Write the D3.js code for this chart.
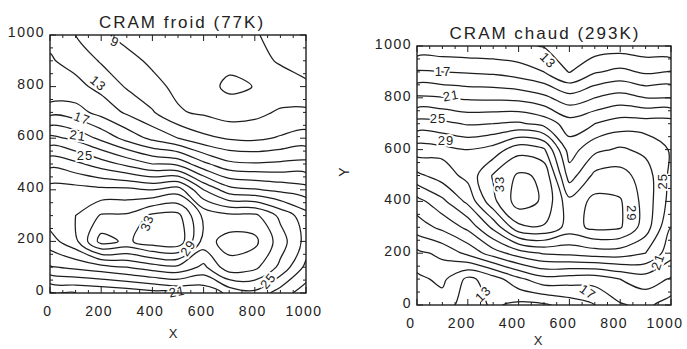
<!DOCTYPE html>
<html>
<head>
<meta charset="utf-8">
<script src="https://cdn.jsdelivr.net/npm/d3@7"></script>
<style>
    body {margin: 0; background: #fff;}
    text {font-family: "Liberation Sans", Arial, sans-serif; fill: #222;}
</style>
</head>
<body>
<svg id="chart" width="687" height="349"></svg>
<script>
// grid columns x = 0..1000, rows listed from y = 1000 (top) down to y = 0
const gridStep = 100;
const gridSize = 11;

// CRAM froid (77K)
const froid = [
    [12.5, 11.0, 9.3, 8.5, 8.1, 7.8, 7.6, 7.4, 7.1, 6.6, 5.5],
    [13.2, 12.3, 10.8, 9.5, 8.7, 8.2, 7.8, 7.5, 7.3, 6.9, 6.3],
    [13.0, 13.6, 12.4, 10.8, 9.5, 8.6, 7.7, 6.6, 7.05, 7.5, 7.3],
    [16.3, 15.8, 14.3, 12.7, 11.2, 9.2, 8.7, 8.0, 8.4, 9.3, 9.4],
    [21.6, 20.5, 18.5, 16.3, 14.5, 13.0, 11.5, 10.8, 10.6, 11.2, 11.8],
    [26.5, 25.5, 24.0, 22.5, 21.0, 20.5, 17.5, 15.5, 15.2, 15.4, 15.6],
    [29.8, 29.8, 29.5, 29.5, 29.0, 30.0, 25.0, 21.8, 21.2, 20.5, 19.8],
    [30.2, 31.0, 33.2, 33.3, 35.4, 35.6, 30.5, 29.5, 29.5, 26.5, 23.8],
    [28.1, 30.5, 35.8, 34.6, 36.2, 36.5, 30.2, 31.8, 31.5, 28.0, 24.3],
    [24.8, 25.5, 26.2, 27.0, 28.0, 28.5, 26.5, 30.3, 29.5, 26.5, 22.5],
    [18.8, 19.0, 19.3, 19.7, 20.3, 21.0, 21.5, 23.5, 24.5, 22.0, 20.0]
];

// CRAM chaud (293K)
const chaud = [
    [13.6, 13.6, 13.5, 13.4, 13.3, 12.9, 12.0, 11.8, 12.0, 11.7, 11.2],
    [17.2, 17.0, 16.8, 16.6, 16.0, 15.0, 12.9, 14.8, 15.5, 14.7, 15.1],
    [21.3, 21.1, 20.7, 20.6, 20.4, 19.5, 17.8, 19.0, 19.8, 19.0, 19.0],
    [25.8, 25.5, 24.8, 25.0, 25.3, 24.3, 22.0, 23.0, 24.0, 24.0, 24.0],
    [30.0, 29.6, 29.0, 29.8, 32.3, 31.3, 24.0, 26.5, 27.3, 26.5, 24.8],
    [26.5, 28.0, 29.6, 33.2, 35.3, 34.7, 26.0, 29.5, 29.8, 28.0, 24.5],
    [22.2, 24.5, 27.5, 32.5, 36.0, 34.7, 29.6, 31.6, 31.2, 28.2, 24.2],
    [20.0, 21.5, 23.5, 27.5, 32.5, 32.8, 30.2, 31.5, 31.2, 28.0, 23.0],
    [16.5, 17.5, 19.5, 22.0, 24.0, 25.2, 25.5, 26.0, 26.0, 25.0, 21.8],
    [14.5, 15.5, 12.5, 14.0, 16.5, 18.3, 18.0, 17.8, 19.0, 20.0, 18.8],
    [14.0, 14.0, 12.0, 13.3, 12.5, 12.7, 13.8, 15.0, 16.8, 17.5, 16.0]
];

const levels = d3.range(7, 37, 2);
const tickValues = [0, 200, 400, 600, 800, 1000];

// contour labels: [x, y, text, angle]
const froidLabels = [
    [254, 973, "9", 25],
    [188, 813, "13", 40],
    [125, 677, "17", 20],
    [109, 611, "21", 8],
    [137, 533, "25", 0],
    [379, 272, "33", -70],
    [539, 175, "29", -55],
    [852, 47, "25", -50],
    [496, 6, "21", -10]
];
const chaudLabels = [
    [516, 945, "13", 45],
    [102, 903, "17", 0],
    [134, 809, "21", -10],
    [83, 720, "25", 0],
    [114, 634, "29", 0],
    [323, 467, "33", -90],
    [843, 354, "29", 90],
    [968, 478, "25", -90],
    [948, 167, "21", -70],
    [673, 50, "17", 35],
    [260, 43, "13", -45]
];

const svg = d3.select("#chart");

function contourPanel(cfg) {
    const x = d3.scaleLinear().domain([0, 1000]).range(cfg.xRange);
    const y = d3.scaleLinear().domain([0, 1000]).range(cfg.yRange);
    const g = svg.append("g");

    g.append("clipPath")
        .attr("id", cfg.id + "-clip")
        .append("rect")
        .attr("x", cfg.xRange[0])
        .attr("y", cfg.yRange[1])
        .attr("width", cfg.xRange[1] - cfg.xRange[0])
        .attr("height", cfg.yRange[0] - cfg.yRange[1]);

    // contour coordinates: sample i sits at i + 0.5
    const toPx = (p) => [x((p[0] - 0.5) * gridStep), y(1000 - (p[1] - 0.5) * gridStep)];
    const contours = d3.contours()
        .size([gridSize, gridSize])
        .thresholds(levels)(cfg.grid.flat());

    const line = d3.line().curve(d3.curveCatmullRomClosed.alpha(0.5));
    const lines = g.append("g").attr("clip-path", `url(#${cfg.id}-clip)`);
    contours.forEach((c) => {
        c.coordinates.forEach((poly) => {
            poly.forEach((ring) => {
                lines.append("path")
                    .attr("d", line(ring.slice(0, -1).map(toPx)))
                    .attr("fill", "none")
                    .attr("stroke", "#1e1e1e")
                    .attr("stroke-width", 1.25);
            });
        });
    });

    // contour labels
    g.append("g")
        .selectAll("text")
        .data(cfg.labels)
        .join("text")
        .attr("transform", (d) => `translate(${x(d[0])},${y(d[1])}) rotate(${d[3]})`)
        .attr("text-anchor", "middle")
        .attr("dy", "0.35em")
        .attr("font-size", 13)
        .attr("letter-spacing", 1)
        .attr("stroke", "#fff")
        .attr("stroke-width", 4)
        .attr("paint-order", "stroke")
        .text((d) => d[2]);

    // frame
    g.append("rect")
        .attr("x", cfg.xRange[0])
        .attr("y", cfg.yRange[1])
        .attr("width", cfg.xRange[1] - cfg.xRange[0])
        .attr("height", cfg.yRange[0] - cfg.yRange[1])
        .attr("fill", "none")
        .attr("stroke", "#1e1e1e")
        .attr("stroke-width", 1.4);

    // inward ticks on all four sides
    const minor = d3.range(0, 1001, 50);
    const tickLen = (v) => (v % 200 === 0 ? 6 : 3);
    const tk = g.append("g").attr("stroke", "#1e1e1e").attr("stroke-width", 1);
    minor.forEach((v) => {
        const px = x(v), py = y(v), L = tickLen(v);
        tk.append("line").attr("x1", px).attr("x2", px).attr("y1", cfg.yRange[0]).attr("y2", cfg.yRange[0] - L);
        tk.append("line").attr("x1", px).attr("x2", px).attr("y1", cfg.yRange[1]).attr("y2", cfg.yRange[1] + L);
        tk.append("line").attr("y1", py).attr("y2", py).attr("x1", cfg.xRange[0]).attr("x2", cfg.xRange[0] + L);
        tk.append("line").attr("y1", py).attr("y2", py).attr("x1", cfg.xRange[1]).attr("x2", cfg.xRange[1] - L);
    });

    // tick labels
    g.append("g")
        .selectAll("text")
        .data(tickValues)
        .join("text")
        .attr("x", (d) => x(d) + cfg.xLabelDx)
        .attr("y", cfg.yRange[0] + 23)
        .attr("text-anchor", "middle")
        .attr("font-size", 14)
        .attr("letter-spacing", 1.5)
        .text((d) => d);
    g.append("g")
        .selectAll("text")
        .data(tickValues)
        .join("text")
        .attr("x", cfg.xRange[0] - 5)
        .attr("y", (d) => y(d) + cfg.yLabelDy)
        .attr("dy", "0.35em")
        .attr("text-anchor", "end")
        .attr("font-size", 14)
        .attr("letter-spacing", 1.5)
        .text((d) => d);

    // titles
    g.append("text")
        .attr("x", cfg.titlePos[0])
        .attr("y", cfg.titlePos[1])
        .attr("text-anchor", "middle")
        .attr("font-size", 17)
        .attr("letter-spacing", 2)
        .text(cfg.title);
    g.append("text")
        .attr("x", cfg.xTitlePos[0])
        .attr("y", cfg.xTitlePos[1])
        .attr("text-anchor", "middle")
        .attr("font-size", 13)
        .text("X");
    if (cfg.yTitlePos) {
        g.append("text")
            .attr("transform", `translate(${cfg.yTitlePos[0]},${cfg.yTitlePos[1]}) rotate(-90)`)
            .attr("text-anchor", "middle")
            .attr("font-size", 14)
            .text("Y");
    }
}

contourPanel({
    id: "froid",
    grid: froid,
    labels: froidLabels,
    xRange: [50, 306],
    yRange: [293, 35],
    xLabelDx: -2,
    yLabelDy: -3,
    title: "CRAM froid (77K)",
    titlePos: [182, 28],
    xTitlePos: [173, 338]
});

contourPanel({
    id: "chaud",
    grid: chaud,
    labels: chaudLabels,
    xRange: [417, 671],
    yRange: [305, 46],
    xLabelDx: -6,
    yLabelDy: -2,
    title: "CRAM chaud (293K)",
    titlePos: [545, 39],
    xTitlePos: [538, 345],
    yTitlePos: [349, 172]
});
</script>
</body>
</html>
